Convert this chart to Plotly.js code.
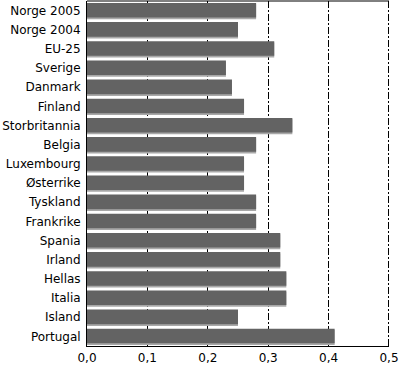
<!DOCTYPE html>
<html><head><meta charset="utf-8">
<script src="https://cdn.plot.ly/plotly-3.0.1.min.js"></script>
<style>html,body{margin:0;padding:0;background:#fff}</style>
</head><body><div id="chart" style="width:400px;height:367px"></div>
<script>
var categories = ["Norge 2005","Norge 2004","EU-25","Sverige","Danmark","Finland","Storbritannia","Belgia","Luxembourg","Østerrike","Tyskland","Frankrike","Spania","Irland","Hellas","Italia","Island","Portugal"];
var values = [0.28,0.25,0.31,0.23,0.24,0.26,0.34,0.28,0.26,0.26,0.28,0.28,0.32,0.32,0.33,0.33,0.25,0.41];
var tickValues = [0,0.1,0.2,0.3,0.4,0.5];
var tickLabels = ["0,0","0,1","0,2","0,3","0,4","0,5"];

var dashPattern = "7px,2px,2px,2px";

var shadow = {type:'bar', orientation:'h', y:categories, x:values, width:0.78, offset:-0.33,
  marker:{color:'#a8a8a8'}, hoverinfo:'skip', showlegend:false};
var bars = {type:'bar', orientation:'h', y:categories, x:values, width:0.76, offset:-0.40,
  marker:{color:'#636363'}, showlegend:false};

var layout = {
  width:400, height:367,
  margin:{l:87, r:11, t:1, b:21},
  paper_bgcolor:'#fff', plot_bgcolor:'#fff',
  barmode:'overlay',
  font:{family:'DejaVu Sans, sans-serif', size:12, color:'#000'},
  xaxis:{range:[0,0.5], tickvals:tickValues, ticktext:tickLabels,
    showgrid:true, gridcolor:'#000', gridwidth:1, griddash:dashPattern,
    showline:true, linecolor:'#000', linewidth:1, zeroline:false,
    ticks:'', ticklabelstandoff:1, fixedrange:true},
  yaxis:{autorange:'reversed', showline:true, linecolor:'#000', linewidth:1,
    ticks:'', showgrid:false, zeroline:false, ticklabelstandoff:3, fixedrange:true},
  shapes:[
    {type:'line', xref:'paper', yref:'paper', x0:0, x1:1, y0:1, y1:1, line:{color:'#000', width:1}},
    {type:'line', xref:'x', yref:'paper', x0:0.49917, x1:0.49917, y0:0, y1:1, line:{color:'#000', width:1, dash:dashPattern}}
  ]
};
Plotly.newPlot('chart', [shadow, bars], layout, {displayModeBar:false, staticPlot:true});
</script></body></html>
